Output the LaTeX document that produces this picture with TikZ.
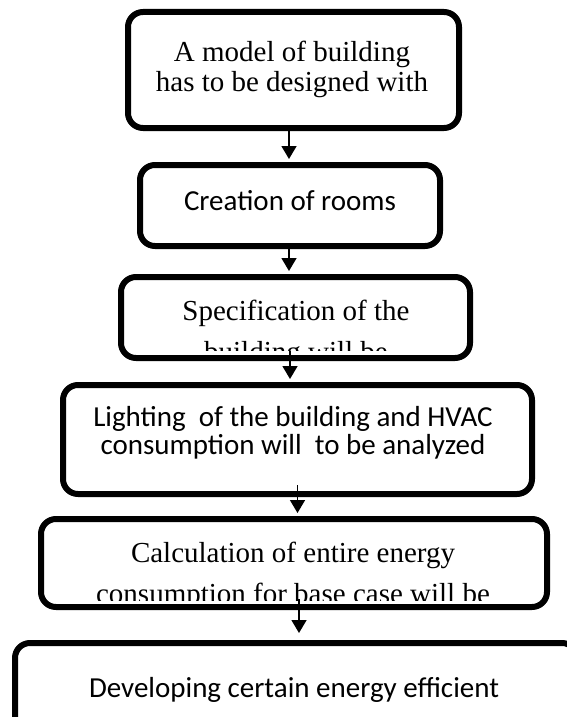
\documentclass[tikz,border=0pt]{standalone}
\usepackage{fontspec}
\newfontfamily\timesface{Liberation Serif}
\newfontfamily\calibriface{Carlito}
\usetikzlibrary{arrows.meta}

\tikzset{
  stage/.style={draw, line width=6pt, rounded corners=15pt, inner sep=0pt},
  serif/.style={font=\timesface\fontsize{29}{29}\selectfont, align=center, inner sep=0pt},
  sans/.style={font=\calibriface\fontsize{29}{28}\selectfont, align=center, inner sep=0pt},
  flow/.style={line width=1.5pt, -{Triangle[width=15pt,length=13pt]}}
}

\begin{document}
\begin{tikzpicture}[x=1pt,y=-1pt]
\useasboundingbox (0,0) rectangle (566,717);

\node[stage, minimum width=331pt, minimum height=116pt] (B1) at (293.5,70) {};
\node[stage, minimum width=300pt, minimum height=81pt] (B2) at (290,205.5) {};
\node[stage, minimum width=349pt, minimum height=81pt] (B3) at (295.5,317.5) {};
\node[stage, minimum width=469pt, minimum height=109pt] (B4) at (297.5,439.5) {};
\node[stage, minimum width=506pt, minimum height=88pt] (B5) at (294,563) {};
\node[stage, minimum width=562pt, minimum height=90pt] (B6) at (296,688) {};

% base = baseline of the last line
\node[serif, anchor=base] (T1) at (292,91) {A model of building\\has to be designed with};
\node[sans, anchor=base] (T2) at (290,210) {Creation of rooms};
\begin{scope}
\clip (B3.north west) rectangle ([yshift=11pt]B3.south east);
\node[serif, anchor=base] (T3) at (296,361) {Specification of the\\[12pt]building will be};
\end{scope}
\node[sans, anchor=base] (T4) at (293,454) {Lighting\ \ of the building and HVAC\\consumption will\ \ to be analyzed};
\begin{scope}
\clip (B5.north west) rectangle ([yshift=10pt]B5.south east);
\node[serif, anchor=base] (T5) at (293,603) {Calculation of entire energy\\[12pt]consumption for base case will be};
\end{scope}
\node[sans, anchor=base] (T6) at (294,697) {Developing certain energy efficient};

\draw[flow] ([xshift=-4.5pt]B1.south) -- ([xshift=-4.5pt,yshift=3pt]B1.south |- B2.north);
\draw[flow] ([xshift=-1pt]B2.south) -- ([xshift=-1pt,yshift=3pt]B2.south |- B3.north);
\draw[flow] ([xshift=-5.5pt,yshift=10pt]B3.south) -- ([xshift=-5.5pt,yshift=3pt]B3.south |- B4.north);
\draw[flow] ([yshift=12pt]B4.south) -- ([yshift=3pt]B4.south |- B5.north);
\draw[flow] ([xshift=5pt,yshift=11pt]B5.south) -- ([xshift=5pt,yshift=7pt]B5.south |- B6.north);
\end{tikzpicture}
\end{document}
